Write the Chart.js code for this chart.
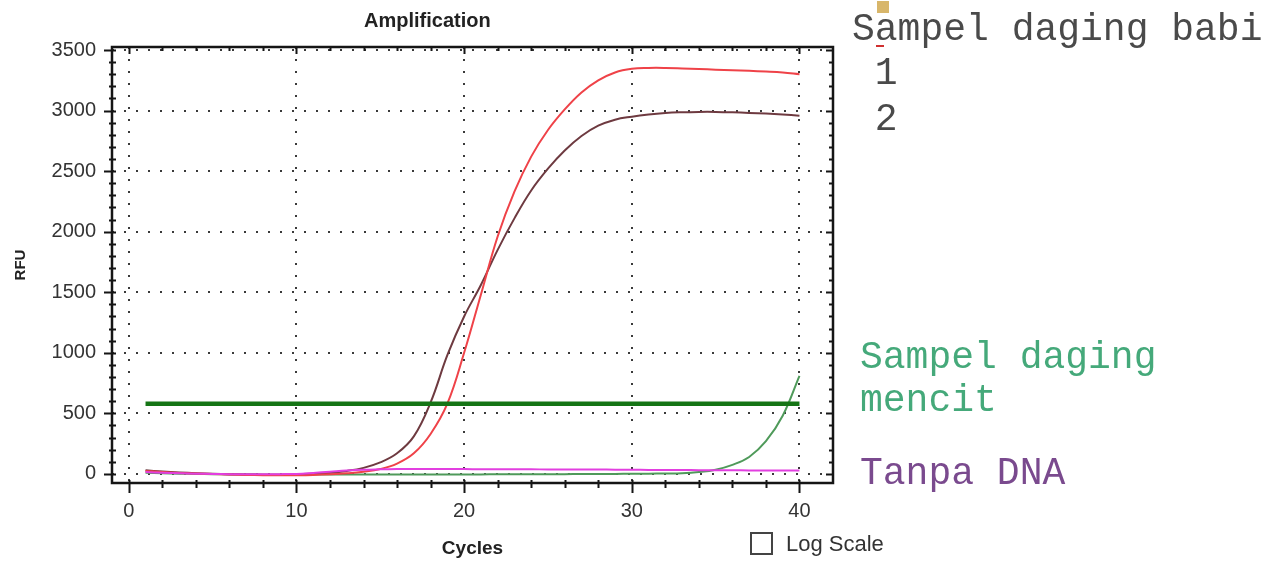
<!DOCTYPE html>
<html>
<head>
<meta charset="utf-8">
<script src="https://cdn.jsdelivr.net/npm/chart.js@4.4.0/dist/chart.umd.min.js"></script>
<style>
  html, body { margin: 0; padding: 0; background: #fff; }
  #wrap { position: relative; width: 1280px; height: 567px; overflow: hidden; }
  #c { position: absolute; left: 0; top: 0; }
  .t { position: absolute; white-space: pre; }
  .mono { font-family: "Liberation Mono", "DejaVu Sans Mono", monospace; font-size: 38px; line-height: 38px; }
  .sans { font-family: "Liberation Sans", Arial, sans-serif; }
</style>
</head>
<body>
<div id="wrap">
  <canvas id="c" width="1280" height="567"></canvas>
  <div class="t sans" style="left:364px;top:9px;font-size:20px;font-weight:bold;color:#222;">Amplification</div>
  <div style="position:absolute;left:877px;top:1px;width:12px;height:12px;background:#d8b66a;"></div>
  <div class="t mono" style="left:852px;top:11px;color:#4a4a4a;">Sampel daging babi</div>
  <div style="position:absolute;left:876px;top:45px;width:8px;height:2px;background:#d03030;"></div>
  <div class="t mono" style="left:852px;top:55px;color:#4a4a4a;"> 1</div>
  <div class="t mono" style="left:852px;top:101px;color:#4a4a4a;"> 2</div>
  <div class="t mono" style="left:860px;top:339px;color:#45a97a;">Sampel daging</div>
  <div class="t mono" style="left:860px;top:382px;color:#45a97a;">mencit</div>
  <div class="t mono" style="left:860px;top:455px;color:#7a4a8e;">Tanpa DNA</div>
  <div style="position:absolute;left:750px;top:532px;width:19px;height:19px;border:2px solid #444;background:#fff;"></div>
  <div class="t sans" style="left:786px;top:531px;font-size:22px;color:#333;">Log Scale</div>
</div>
<script>
// siklus PCR
const cycles = [1,2,3,4,5,6,7,8,9,10,11,12,13,14,15,16,17,18,19,20,21,22,23,24,25,26,27,28,29,30,31,32,33,34,35,36,37,38,39,40];

// Sampel daging babi 1 (merah, plateau atas)
const babi1 = [25,15,8,3,0,-5,-8,-10,-10,-10,-8,-3,5,18,40,85,170,330,580,1000,1480,1960,2330,2620,2840,3010,3150,3250,3315,3345,3352,3352,3348,3343,3338,3333,3328,3322,3314,3300];

// Sampel daging babi 2 (merah gelap, plateau bawah)
const babi2 = [30,20,12,6,2,-2,-5,-6,-6,-4,2,10,25,50,95,170,310,590,980,1300,1560,1850,2110,2340,2520,2670,2790,2875,2925,2950,2968,2980,2986,2989,2989,2986,2981,2975,2967,2958];

// Sampel daging mencit (hijau, naik di akhir)
const mencit = [10,6,2,0,-2,-4,-5,-6,-6,-5,-5,-4,-4,-4,-4,-4,-4,-4,-4,-4,-4,-3,-3,-3,-2,-2,-1,0,0,1,2,3,5,15,35,75,140,270,480,810];

// Tanpa DNA (magenta)
const tanpaDNA = [15,10,5,2,0,-2,-3,-3,-2,0,8,18,28,35,38,40,40,40,40,40,39,39,38,38,37,37,36,36,35,34,33,33,32,31,30,30,29,29,28,28];

// garis threshold
const thresholdCycles = [1, 40];
const thresholdRFU = [580, 580];

// label sumbu
const xTickValues = [0, 10, 20, 30, 40];
const yTickValues = [0, 500, 1000, 1500, 2000, 2500, 3000, 3500];

const xMinor = [];
for (let v = 0; v <= 40; v += 2) xMinor.push(v);
const yMinor = [];
for (let v = 0; v <= 3500; v += 100) yMinor.push(v);

function pts(xs, ys) {
  return xs.map((x, i) => ({ x: x, y: ys[i] }));
}

const sansFont = '"Liberation Sans", Arial, sans-serif';

// bingkai + tick kecil di keempat sisi
const frameTicks = {
  id: 'frameTicks',
  afterDatasetsDraw(chart) {
    const { ctx, chartArea: a, scales: { x, y } } = chart;
    ctx.save();
    ctx.strokeStyle = '#151515';
    ctx.lineWidth = 2;
    ctx.beginPath();
    xMinor.forEach(v => {
      const px = Math.round(x.getPixelForValue(v)) + 0.5;
      const major = v % 10 === 0;
      ctx.moveTo(px, a.bottom - 3);
      ctx.lineTo(px, a.bottom + (major ? 10 : 5));
      ctx.moveTo(px, a.top - 1);
      ctx.lineTo(px, a.top + (major ? 7 : 4));
    });
    yMinor.forEach(v => {
      const py = Math.round(y.getPixelForValue(v)) + 0.5;
      const major = v % 500 === 0;
      ctx.moveTo(a.left - (major ? 8 : 3), py);
      ctx.lineTo(a.left + 4, py);
      ctx.moveTo(a.right - (major ? 7 : 4), py);
      ctx.lineTo(a.right + 1, py);
    });
    ctx.stroke();
    ctx.lineWidth = 2.5;
    ctx.strokeRect(a.left, a.top, a.width, a.height);
    ctx.restore();
  }
};

new Chart(document.getElementById('c'), {
  type: 'line',
  data: {
    datasets: [
      { label: 'Threshold', data: pts(thresholdCycles, thresholdRFU), borderColor: '#157515', borderWidth: 4.5, tension: 0 },
      { label: 'Tanpa DNA', data: pts(cycles, tanpaDNA), borderColor: '#e23fe0', borderWidth: 2 },
      { label: 'Sampel daging babi 1', data: pts(cycles, babi1), borderColor: '#ef4248', borderWidth: 2 },
      { label: 'Sampel daging babi 2', data: pts(cycles, babi2), borderColor: '#6e3a40', borderWidth: 2 },
      { label: 'Sampel daging mencit', data: pts(cycles, mencit), borderColor: '#4f9a5a', borderWidth: 2 }
    ]
  },
  options: {
    responsive: false,
    animation: false,
    layout: { padding: { left: 9, top: 47, right: 447, bottom: 4 } },
    plugins: { legend: { display: false }, tooltip: { enabled: false }, title: { display: false } },
    elements: { point: { radius: 0 }, line: { tension: 0.4 } },
    scales: {
      x: {
        type: 'linear', min: -1, max: 42,
        afterBuildTicks: s => { s.ticks = xTickValues.map(v => ({ value: v })); },
        afterFit: s => { s.height = 80; },
        grid: { color: '#3a3a3a', lineWidth: 2, drawTicks: false },
        border: { display: false, dash: [2, 10] },
        ticks: { padding: 16, color: '#333', maxRotation: 0, font: { family: sansFont, size: 20 }, callback: v => String(v) },
        title: { display: true, text: 'Cycles', color: '#222', font: { family: sansFont, size: 19, weight: 'bold' }, padding: { top: 0, bottom: 3 } }
      },
      y: {
        type: 'linear', min: -75, max: 3525,
        afterBuildTicks: s => { s.ticks = yTickValues.map(v => ({ value: v })); },
        afterFit: s => { s.width = 103; },
        grid: { color: '#3a3a3a', lineWidth: 2, drawTicks: false },
        border: { display: false, dash: [2, 10] },
        ticks: { padding: 16, color: '#333', font: { family: sansFont, size: 20 }, callback: v => String(v) },
        title: { display: true, text: 'RFU', color: '#222', font: { family: sansFont, size: 15, weight: 'bold' }, padding: { top: 3, bottom: 0 } }
      }
    }
  },
  plugins: [frameTicks]
});
</script>
</body>
</html>
